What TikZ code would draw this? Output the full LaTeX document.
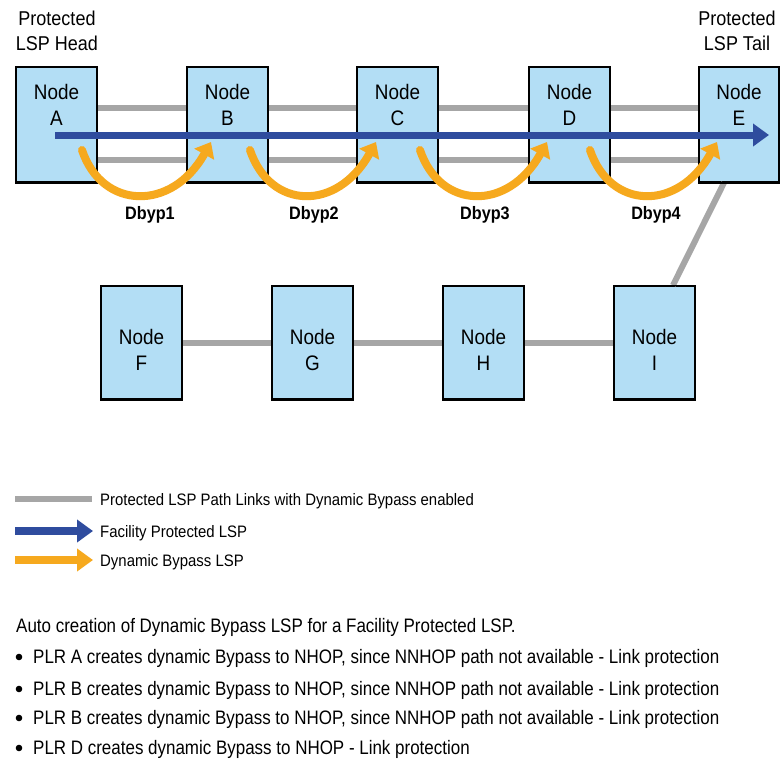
\documentclass[tikz,border=0pt]{standalone}
\usepackage{fontspec}
\setmainfont{Liberation Sans}[FakeStretch=0.9]
\newfontfamily\narrowfont{Liberation Sans}[FakeStretch=0.87]
\usetikzlibrary{arrows.meta}
\definecolor{nodefill}{HTML}{B3DEF5}
\definecolor{linkgray}{HTML}{A6A6A6}
\definecolor{lspblue}{HTML}{2F4C9E}
\definecolor{bypassorange}{HTML}{F6A91E}
\tikzset{
  box/.style={draw=black, line width=1.5pt, fill=nodefill, minimum width=80pt, minimum height=115pt, inner sep=0pt},
  lowbox/.style={box, minimum height=113pt},
  nodetxt/.style={align=center, font=\fontsize{21}{26}\selectfont},
  link/.style={draw=linkgray, line width=6pt},
  lsp/.style={draw=lspblue, line width=7pt, -{Triangle[length=16pt,width=22pt]}},
  bypass/.style={draw=bypassorange, line width=8pt, line cap=round, -{Triangle[length=14pt,width=22pt]}},
  dlabel/.style={font=\fontsize{18}{20}\selectfont\bfseries},
  headtxt/.style={align=center, font=\fontsize{20}{25}\selectfont},
  legtxt/.style={anchor=base west, inner sep=0pt, font=\fontsize{16.6}{18}\selectfont},
  bodytxt/.style={anchor=base west, inner sep=0pt, font=\narrowfont\fontsize{19.5}{22}\selectfont}
}
\begin{document}
\begin{tikzpicture}[x=1pt,y=-1pt]
\useasboundingbox (0,0) rectangle (780,761);
\fill[white] (0,0) rectangle (780,761);

% top row boxes
\node[box] (A) at (56.5,124.5) {};
\node[box] (B) at (227.5,124.5) {};
\node[box] (C) at (397.5,124.5) {};
\node[box] (D) at (569.5,124.5) {};
\node[box] (E) at (739,124.5) {};
% bottom row boxes
\node[lowbox] (F) at (141.5,342.5) {};
\node[lowbox] (G) at (312.5,342.5) {};
\node[lowbox] (H) at (483.5,342.5) {};
\node[lowbox] (I) at (654.5,342.5) {};

% links
\foreach \p/\q in {A/B,B/C,C/D,D/E}{
  \draw[link] ([yshift=16.5pt]\p.east) -- ([yshift=16.5pt]\q.west);
  \draw[link] ([yshift=-35.5pt]\p.east) -- ([yshift=-35.5pt]\q.west);
}
\foreach \p/\q in {F/G,G/H,H/I}{
  \draw[link] (\p.east) -- (\q.west);
}
\draw[link] ([xshift=18.5pt]I.north) -- ([xshift=-15pt]E.south);

% redraw box borders on top of links
\foreach \n in {A,B,C,D,E,F,G,H,I}{
  \draw[line width=1.5pt] (\n.north west) rectangle (\n.south east);
}

% box labels
\node[nodetxt] (tA) at (56.5,105) {Node\\A};
\node[nodetxt] (tB) at (227.5,105) {Node\\B};
\node[nodetxt] (tC) at (397.5,105) {Node\\C};
\node[nodetxt] (tD) at (569.5,105) {Node\\D};
\node[nodetxt] (tE) at (739,105) {Node\\E};
\node[nodetxt] (tF) at (141.5,350) {Node\\F};
\node[nodetxt] (tG) at (312.5,350) {Node\\G};
\node[nodetxt] (tH) at (483.5,350) {Node\\H};
\node[nodetxt] (tI) at (654.5,350) {Node\\I};

% bypass arcs
\coordinate (sA) at (82,150);  \coordinate (eB) at (211,142);
\coordinate (sB) at (250,150); \coordinate (eC) at (376,142);
\coordinate (sC) at (420,150); \coordinate (eD) at (547,142);
\coordinate (sD) at (590,150); \coordinate (eE) at (717,142);
\draw[bypass] (sA) .. controls (102,210) and (172,212) .. (eB);
\draw[bypass] (sB) .. controls (270,210) and (337,212) .. (eC);
\draw[bypass] (sC) .. controls (440,210) and (508,212) .. (eD);
\draw[bypass] (sD) .. controls (610,210) and (678,212) .. (eE);

% protected LSP
\coordinate (lspS) at (55,135);
\coordinate (lspE) at (769,135);
\draw[lsp] (lspS) -- (lspE);

% Dbyp labels
\node[dlabel] (d1) at (150,215) {Dbyp1};
\node[dlabel] (d2) at (314,215) {Dbyp2};
\node[dlabel] (d3) at (485,215) {Dbyp3};
\node[dlabel] (d4) at (656,215) {Dbyp4};

% head / tail labels
\node[headtxt] (head) at (57,31) {Protected\\LSP Head};
\node[headtxt] (tail) at (737,31) {Protected\\LSP Tail};

% legend
\coordinate (g1) at (15,499); \coordinate (g2) at (92,499);
\draw[link, line width=5.5pt] (g1) -- (g2);
\coordinate (b1) at (15,531); \coordinate (b2) at (93,531);
\draw[draw=lspblue, line width=8pt, -{Triangle[length=16pt,width=22pt]}] (b1) -- (b2);
\coordinate (o1) at (15,560); \coordinate (o2) at (93,560);
\draw[draw=bypassorange, line width=8pt, -{Triangle[length=16pt,width=22pt]}] (o1) -- (o2);
\node[legtxt] (l1) at (100,505) {Protected LSP Path Links with Dynamic Bypass enabled};
\node[legtxt] (l2) at (100,537) {Facility Protected LSP};
\node[legtxt] (l3) at (100,566) {Dynamic Bypass LSP};

% description
\node[bodytxt] (t0) at (16,632) {Auto creation of Dynamic Bypass LSP for a Facility Protected LSP.};
\foreach \yy/\txt in {663/{PLR A creates dynamic Bypass to NHOP, since NNHOP path not available - Link protection},
                     695/{PLR B creates dynamic Bypass to NHOP, since NNHOP path not available - Link protection},
                     724/{PLR B creates dynamic Bypass to NHOP, since NNHOP path not available - Link protection},
                     754/{PLR D creates dynamic Bypass to NHOP - Link protection}}{
  \fill (19,\yy-6) circle (3.3pt);
  \node[bodytxt] at (33,\yy) {\txt};
}
\end{tikzpicture}
\end{document}
